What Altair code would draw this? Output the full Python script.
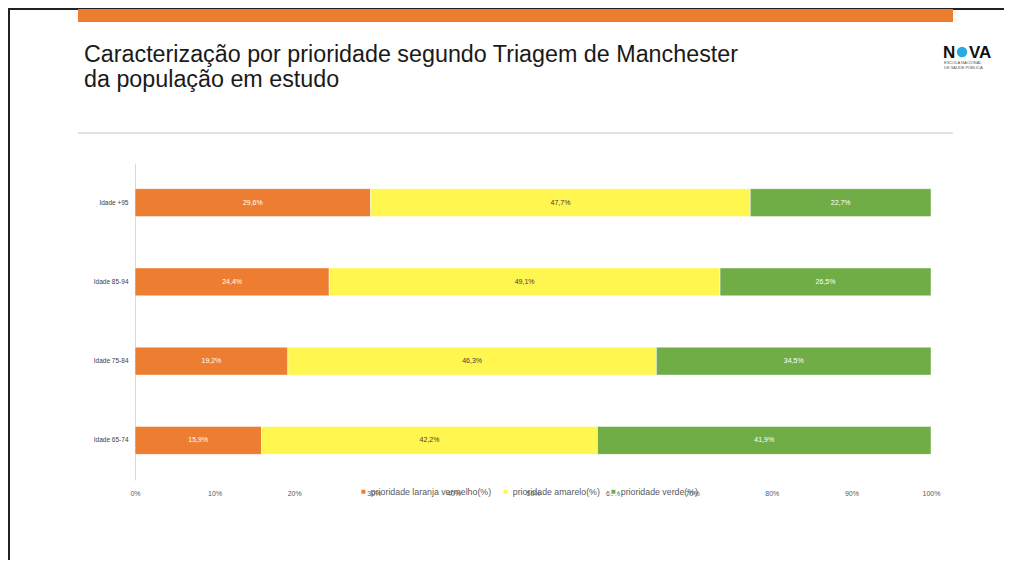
import altair as alt
import pandas as pd

# ---- data ----
groups = ["Idade +95", "Idade 85-94", "Idade 75-84", "Idade 65-74"]
series = ["prioridade laranja vermelho(%)", "prioridade amarelo(%)", "prioridade verde(%)"]
laranja = [29.6, 24.4, 19.2, 15.9]
amarelo = [47.7, 49.1, 46.3, 42.2]
verde = [22.7, 26.5, 34.5, 41.9]
colors = ["#ED7D31", "#FFF64F", "#70AD47"]
x_ticks = [0, 10, 20, 30, 40, 50, 60, 70, 80, 90, 100]
title_lines = ["Caracterização por prioridade segundo Triagem de Manchester",
               "da população em estudo"]

rows = []
for gi, g in enumerate(groups):
    for si, (s, vals) in enumerate(zip(series, [laranja, amarelo, verde])):
        rows.append({"group": g, "serie": s, "value": vals[gi], "order": si})
df = pd.DataFrame(rows)

W, H = 796, 317
FONT = "Liberation Sans"

base = alt.Chart(df).transform_stack(
    stack="value", groupby=["group"], as_=["v0", "v1"], sort=[alt.SortField("order")]
)

y_enc = alt.Y("group:N", sort=groups,
              scale=alt.Scale(paddingInner=0.647, paddingOuter=0.3235),
              axis=alt.Axis(title=None, ticks=False, labelFontSize=6.5, labelColor="#404040",
                            labelPadding=7, domainColor="#D9D9D9", labelFont=FONT))

bars = base.mark_bar(stroke="white", strokeWidth=0.5).encode(
    y=y_enc,
    x=alt.X("v0:Q", scale=alt.Scale(domain=[0, 100], nice=False),
            axis=alt.Axis(title=None, values=x_ticks, labelExpr="datum.value + '%'",
                          ticks=False, domain=False, grid=False, labelFontSize=7,
                          labelColor="#595959", labelPadding=9, labelFont=FONT,
                          labelFlush=False)),
    x2="v1:Q",
    color=alt.Color("serie:N", scale=alt.Scale(domain=series, range=colors),
                    legend=alt.Legend(title=None, orient="none", legendX=224, legendY=324,
                                      direction="horizontal", symbolType="square",
                                      symbolSize=30, labelFontSize=8.8, labelColor="#595959",
                                      columnPadding=7, symbolOffset=0, labelOffset=3,
                                      labelFont=FONT, labelLimit=300)),
)

labels = base.transform_calculate(
    mid="(datum.v0 + datum.v1) / 2",
    lbl="replace(format(datum.value, '.1f'), '.', ',') + '%'",
).mark_text(fontSize=7, font=FONT).encode(
    y=alt.Y("group:N", sort=groups),
    x=alt.X("mid:Q"),
    text="lbl:N",
    color=alt.condition("datum.order == 1", alt.value("#404040"), alt.value("white")),
)

one = pd.DataFrame({"k": [0]})
# slide decorations (view coordinates relative to the plot origin)
border_top = alt.Chart(one).mark_rule(color="#222222", strokeWidth=2).encode(
    x=alt.value(-127), x2=alt.value(880), y=alt.value(-154))
border_left = alt.Chart(one).mark_rule(color="#222222", strokeWidth=2).encode(
    x=alt.value(-126), y=alt.value(-155), y2=alt.value(410))
top_bar = alt.Chart(one).mark_rect(color="#ED7D31").encode(
    x=alt.value(-57), x2=alt.value(818), y=alt.value(-154), y2=alt.value(-141))
sep = alt.Chart(one).mark_rule(color="#D9D9D9", strokeWidth=1.5).encode(
    x=alt.value(-57), x2=alt.value(818), y=alt.value(-30))
t1 = alt.Chart(one).mark_text(align="left", baseline="alphabetic", fontSize=23.3,
                              font=FONT, color="#1A1A1A").encode(
    x=alt.value(-51), y=alt.value(-101), text=alt.value(title_lines[0]))
t2 = alt.Chart(one).mark_text(align="left", baseline="alphabetic", fontSize=23.3,
                              font=FONT, color="#1A1A1A").encode(
    x=alt.value(-51), y=alt.value(-76), text=alt.value(title_lines[1]))
logo_n = alt.Chart(one).mark_text(align="left", baseline="alphabetic", fontSize=17,
                                  fontWeight="bold", font=FONT, color="#111111").encode(
    x=alt.value(808), y=alt.value(-105), text=alt.value("N"))
logo_o = alt.Chart(one).mark_point(shape="circle", filled=True, color="#29ABE2", size=110,
                                   opacity=1).encode(
    x=alt.value(827), y=alt.value(-111))
logo_va = alt.Chart(one).mark_text(align="left", baseline="alphabetic", fontSize=17,
                                   fontWeight="bold", font=FONT, color="#111111").encode(
    x=alt.value(834), y=alt.value(-105), text=alt.value("VA"))
logo_s1 = alt.Chart(one).mark_text(align="left", baseline="alphabetic", fontSize=4,
                                   font=FONT, color="#555555").encode(
    x=alt.value(809), y=alt.value(-99), text=alt.value("ESCOLA NACIONAL"))
logo_s2 = alt.Chart(one).mark_text(align="left", baseline="alphabetic", fontSize=4,
                                   font=FONT, color="#555555").encode(
    x=alt.value(809), y=alt.value(-94), text=alt.value("DE SAÚDE PÚBLICA"))

chart = alt.layer(
    border_top, border_left, top_bar, sep, t1, t2, logo_n, logo_o, logo_va, logo_s1, logo_s2,
    bars, labels,
).properties(
    width=W, height=H,
    autosize=alt.AutoSizeParams(type="none"),
    padding={"left": 127, "top": 155, "right": 73, "bottom": 80},
    background="white",
).configure_view(stroke=None)

chart.save("out.html", embed_options={"renderer": "svg", "actions": False})
